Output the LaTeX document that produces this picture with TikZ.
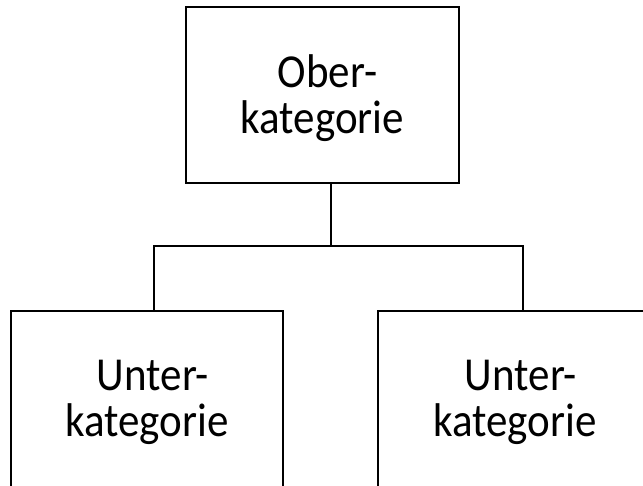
\documentclass[tikz,border=0pt]{standalone}
\usepackage{graphicx}
\usepackage{fontspec}
\setmainfont{Carlito}
\newcommand{\twoline}[2]{\scalebox{1}[1.1]{\fontsize{43}{40}\selectfont\begin{tabular}{@{}c@{}}#1\\#2\end{tabular}}}
\begin{document}
\begin{tikzpicture}[x=1pt,y=-1pt,
  box/.style={draw=black, line width=1.8pt, minimum width=272pt, minimum height=176pt, inner sep=0pt, outer sep=0pt, anchor=north west},
  lbl/.style={inner sep=0pt, text=black},
  conn/.style={draw=black, line width=1.8pt}]
\useasboundingbox (0,0) rectangle (643,485);
\clip (0,0) rectangle (643,485);
\node[box, minimum width=273pt] (ober) at (186,7) {};
\node[box] (u1) at (11,311) {};
\node[box, minimum width=274pt] (u2) at (378,311) {};
\node[lbl] (t0) at (322.5,101) {\twoline{\hspace*{10pt}Ober-}{kategorie}};
\node[lbl] (t1) at (147,405) {\twoline{\hspace*{12pt}Unter-}{kategorie}};
\node[lbl] (t2) at (515,405) {\twoline{\hspace*{12pt}Unter-}{kategorie}};
\coordinate (j) at (331,246);
\coordinate (jl) at (154,246);
\coordinate (jr) at (523,246);
\draw[conn] (j |- ober.south) -- (j);
\draw[conn] (jl |- u1.north) -- (jl) -- (jr) -- (jr |- u2.north);
\end{tikzpicture}
\end{document}
